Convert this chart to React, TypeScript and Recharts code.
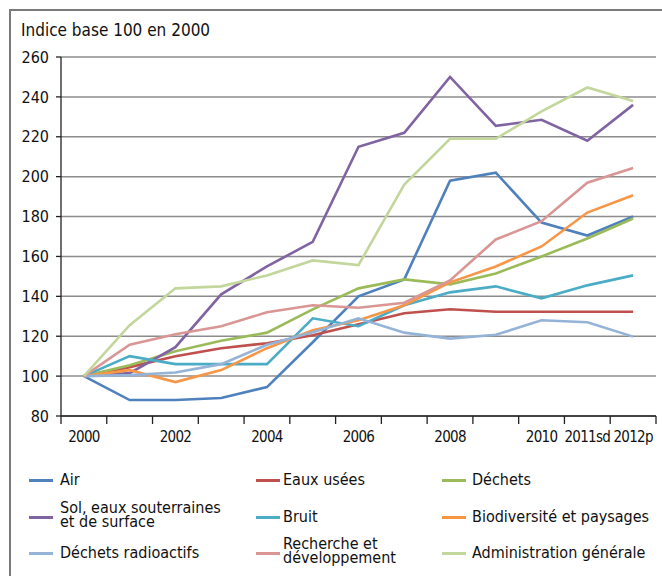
import React from "react";
import { LineChart, Line, XAxis, YAxis, CartesianGrid } from "recharts";

const categories = ["2000", "2001", "2002", "2003", "2004", "2005", "2006", "2007", "2008", "2009", "2010", "2011sd", "2012p"];
const tickLabels = ["2000", "", "2002", "", "2004", "", "2006", "", "2008", "", "2010", "2011sd", "2012p"];
const yTicks = [80, 100, 120, 140, 160, 180, 200, 220, 240, 260];

const air = [100, 88, 88, 89, 94.5, 117, 140, 148.5, 198, 202, 177, 170.5, 180];
const eauxUsees = [100, 104.5, 110, 114, 116.5, 120.5, 126, 131.5, 133.5, 132.3, 132.3, 132.3, 132.3];
const dechets = [100, 105.5, 112.5, 117.7, 121.8, 133.5, 144, 148.5, 146, 151.5, 160, 169, 179];
const sol = [100, 101.5, 114.5, 141, 155, 167.3, 215, 222, 250, 225.5, 228.5, 218, 236];
const bruit = [100, 110, 106, 106, 106, 129, 125, 135.5, 142, 145, 139, 145.5, 150.5];
const biodiversite = [100, 103, 97, 103, 114, 123, 128, 135.5, 147, 155, 165, 182, 190.7];
const radioactifs = [100, 100.5, 101.8, 106, 115.7, 122, 129, 121.8, 118.8, 120.7, 128, 127, 119.8];
const recherche = [100, 115.7, 121, 125, 132, 135.5, 134.3, 136.8, 148, 168.5, 177.7, 197, 204.3];
const administration = [100, 125.5, 144, 145, 150.5, 158, 155.7, 196, 219, 219, 232.7, 244.7, 238];

const series = [
  { key: "air", name: "Air", label: "Air", color: "#4f81bd", values: air },
  { key: "eaux", name: "Eaux usées", label: "Eaux usées", color: "#c0504d", values: eauxUsees },
  { key: "dechets", name: "Déchets", label: "Déchets", color: "#9bbb59", values: dechets },
  { key: "sol", name: "Sol, eaux souterraines et de surface", label: "Sol, eaux souterraines\net de surface", color: "#8064a2", values: sol },
  { key: "bruit", name: "Bruit", label: "Bruit", color: "#4bacc6", values: bruit },
  { key: "bio", name: "Biodiversité et paysages", label: "Biodiversité et paysages", color: "#f79646", values: biodiversite },
  { key: "radio", name: "Déchets radioactifs", label: "Déchets radioactifs", color: "#95b3d7", values: radioactifs },
  { key: "rech", name: "Recherche et développement", label: "Recherche et\ndéveloppement", color: "#d99694", values: recherche },
  { key: "admin", name: "Administration générale", label: "Administration générale", color: "#c3d69b", values: administration },
];

const data = categories.map((c, i) => {
  const row: Record<string, any> = { year: c };
  series.forEach((s) => (row[s.key] = s.values[i]));
  return row;
});

const FONT = "'DejaVu Sans Condensed', 'Liberation Sans Narrow', 'Open Sans', sans-serif";
const HALF_BAND = 22.9;

const XTick = (props: any) => {
  const { x, y, index } = props;
  const label = tickLabels[index];
  const last = index === categories.length - 1;
  return (
    <g>
      <line x1={x - HALF_BAND} y1={y} x2={x - HALF_BAND} y2={y + 8} stroke="#222" strokeWidth={1.3} />
      {last && <line x1={x + HALF_BAND} y1={y} x2={x + HALF_BAND} y2={y + 8} stroke="#222" strokeWidth={1.3} />}
      {label && (
        <text x={x} y={y + 26} textAnchor="middle" fontFamily={FONT} fontSize={15} letterSpacing={-0.7} fill="#111">
          {label}
        </text>
      )}
    </g>
  );
};

const legendCols = [
  { marker: 29, text: 60 },
  { marker: 256, text: 283 },
  { marker: 442, text: 472 },
];
const legendRows = [480, 517, 553];

export default function App() {
  return (
    <div style={{ position: "absolute", left: 0, top: 0, width: 662, height: 576, background: "#fff", overflow: "hidden" }}>
      <div
        style={{
          position: "absolute",
          left: 9,
          top: 9,
          width: 700,
          height: 700,
          borderTop: "2px solid #7a7a7a",
          borderLeft: "2px solid #7a7a7a",
        }}
      />
      <div style={{ position: "absolute", left: 21, top: 20, fontFamily: FONT, fontSize: 17, color: "#111", whiteSpace: "nowrap" }}>
        Indice base 100 en 2000
      </div>
      <div style={{ position: "absolute", left: 0, top: 0 }}>
        <LineChart width={662} height={576} data={data} margin={{ top: 57, right: 6, left: 0, bottom: 130 }}>
          <CartesianGrid horizontal vertical={false} stroke="#8c8c8c" strokeWidth={1.5} />
          <XAxis
            dataKey="year"
            interval={0}
            padding={{ left: HALF_BAND, right: HALF_BAND }}
            height={30}
            tickSize={0}
            tickMargin={0}
            tickLine={false}
            axisLine={{ stroke: "#222", strokeWidth: 1.3 }}
            tick={<XTick />}
          />
          <YAxis
            domain={[80, 260]}
            ticks={yTicks}
            width={61}
            tickSize={5}
            tickMargin={7}
            interval={0}
            axisLine={{ stroke: "#222", strokeWidth: 1.3 }}
            tickLine={{ stroke: "#222", strokeWidth: 1.3 }}
            tick={{ fontFamily: FONT, fontSize: 16, fill: "#111" }}
          />
          {series.map((s) => (
            <Line
              key={s.key}
              dataKey={s.key}
              name={s.name}
              stroke={s.color}
              strokeWidth={2.6}
              dot={false}
              activeDot={false}
              isAnimationActive={false}
              type="linear"
            />
          ))}
        </LineChart>
      </div>
      {series.map((s, i) => {
        const col = legendCols[i % 3];
        const cy = legendRows[Math.floor(i / 3)];
        const multi = s.label.includes("\n");
        return (
          <React.Fragment key={s.key}>
            <div style={{ position: "absolute", left: col.marker, top: cy - 1.5, width: 24, height: 3, background: s.color }} />
            <div
              style={{
                position: "absolute",
                left: col.text,
                top: multi ? cy - 16 : cy - 10,
                fontFamily: FONT,
                fontSize: 16,
                lineHeight: multi ? "14px" : "20px",
                color: "#111",
                whiteSpace: "pre",
              }}
            >
              {s.label}
            </div>
          </React.Fragment>
        );
      })}
    </div>
  );
}
